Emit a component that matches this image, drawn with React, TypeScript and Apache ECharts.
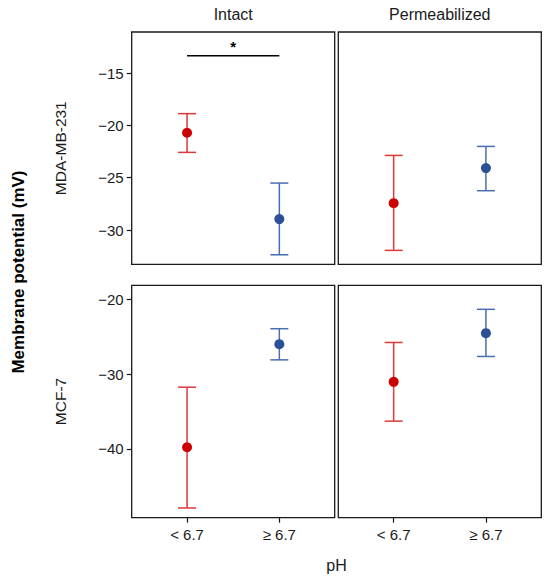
import React, { useEffect, useRef } from "react";
import * as echarts from "echarts";

// ---------- data ----------
const conditions = ["Intact", "Permeabilized"];
const cellLines = ["MDA-MB-231", "MCF-7"];
const phLabels = ["< 6.7", "≥ 6.7"];
const phPositions = [1, 2];

const meanMdaIntact = [-20.7, -28.95];
const lowMdaIntact = [-22.58, -32.36];
const highMdaIntact = [-18.88, -25.51];

const meanMdaPerm = [-27.43, -24.08];
const lowMdaPerm = [-31.94, -26.24];
const highMdaPerm = [-22.87, -22.01];

const meanMcfIntact = [-39.77, -25.99];
const lowMcfIntact = [-47.88, -28.09];
const highMcfIntact = [-31.74, -23.93];

const meanMcfPerm = [-31.03, -24.52];
const lowMcfPerm = [-36.28, -27.64];
const highMcfPerm = [-25.77, -21.34];

const topRowRange = [-33.28, -11.08];
const bottomRowRange = [-49.18, -18.13];
const topRowTicks = [-30, -25, -20, -15];
const bottomRowTicks = [-40, -30, -20];

const sigBracketX = [1, 2];
const sigBracketY = -13.35;
const sigLabel = "*";

// ---------- styles ----------
const pointColors = ["#cc0000", "#2b5096"];
const barColors = ["#dd3838", "#4a6eb2"];
const FONT = "Liberation Sans, Arial, Helvetica, sans-serif";

const panels = [
  { mean: meanMdaIntact, low: lowMdaIntact, high: highMdaIntact, row: 0, col: 0 },
  { mean: meanMdaPerm, low: lowMdaPerm, high: highMdaPerm, row: 0, col: 1 },
  { mean: meanMcfIntact, low: lowMcfIntact, high: highMcfIntact, row: 1, col: 0 },
  { mean: meanMcfPerm, low: lowMcfPerm, high: highMcfPerm, row: 1, col: 1 },
];

const gridLefts = [131.7, 338.3];
const gridTops = [32, 285.3];
const gridW = 203;
const gridH = 232.4;

const fmtNeg = (v: number) => (v < 0 ? "\u2212" + Math.abs(v) : String(v));

export default function App() {
  const ref = useRef<HTMLDivElement>(null);

  useEffect(() => {
    if (!ref.current) return;
    const chart = echarts.init(ref.current, null, { renderer: "svg" });

    const grids: any[] = [];
    const xAxes: any[] = [];
    const yAxes: any[] = [];
    const series: any[] = [];

    panels.forEach((p, i) => {
      grids.push({
        left: gridLefts[p.col],
        top: gridTops[p.row],
        width: gridW,
        height: gridH,
        show: true,
        borderColor: "#1a1a1a",
        borderWidth: 1.3,
        backgroundColor: "#ffffff",
        containLabel: false,
      });
      const isBottom = p.row === 1;
      const isLeft = p.col === 0;
      xAxes.push({
        type: "value",
        gridIndex: i,
        min: 0.4,
        max: 2.6,
        splitLine: { show: false },
        axisLine: { show: false },
        axisTick: {
          show: isBottom,
          customValues: phPositions,
          length: 5,
          inside: false,
          lineStyle: { color: "#1a1a1a", width: 1.2 },
        },
        axisLabel: {
          show: isBottom,
          customValues: phPositions,
          formatter: (v: number) => phLabels[phPositions.indexOf(v)] ?? "",
          fontSize: 15,
          color: "#1a1a1a",
          fontFamily: FONT,
          margin: 9,
        },
      });
      const range = p.row === 0 ? topRowRange : bottomRowRange;
      const ticks = p.row === 0 ? topRowTicks : bottomRowTicks;
      yAxes.push({
        type: "value",
        gridIndex: i,
        min: range[0],
        max: range[1],
        splitLine: { show: false },
        axisLine: { show: false },
        axisTick: {
          show: isLeft,
          customValues: ticks,
          length: 5,
          lineStyle: { color: "#1a1a1a", width: 1.2 },
        },
        axisLabel: {
          show: isLeft,
          customValues: ticks,
          formatter: (v: number) => fmtNeg(v),
          fontSize: 15,
          color: "#1a1a1a",
          fontFamily: FONT,
          margin: 8,
        },
      });

      const errData = phPositions.map((x, k) => [x, p.low[k], p.high[k]]);
      series.push({
        type: "custom",
        xAxisIndex: i,
        yAxisIndex: i,
        data: errData,
        encode: { x: 0, y: [1, 2] },
        renderItem: (params: any, api: any) => {
          const x = api.value(0);
          const lo = api.coord([x, api.value(1)]);
          const hi = api.coord([x, api.value(2)]);
          const hw = 9;
          const color = barColors[params.dataIndex];
          const st = { stroke: color, lineWidth: 1.5 };
          return {
            type: "group",
            children: [
              { type: "line", shape: { x1: lo[0], y1: lo[1], x2: hi[0], y2: hi[1] }, style: st },
              { type: "line", shape: { x1: lo[0] - hw, y1: lo[1], x2: lo[0] + hw, y2: lo[1] }, style: st },
              { type: "line", shape: { x1: hi[0] - hw, y1: hi[1], x2: hi[0] + hw, y2: hi[1] }, style: st },
            ],
          };
        },
        z: 2,
      });
      series.push({
        type: "scatter",
        xAxisIndex: i,
        yAxisIndex: i,
        symbol: "circle",
        symbolSize: 10,
        data: phPositions.map((x, k) => ({
          value: [x, p.mean[k]],
          itemStyle: { color: pointColors[k], opacity: 1 },
        })),
        z: 3,
      });
    });

    // significance bracket (Intact, MDA-MB-231)
    series.push({
      type: "line",
      xAxisIndex: 0,
      yAxisIndex: 0,
      symbol: "none",
      data: sigBracketX.map((x) => [x, sigBracketY]),
      lineStyle: { color: "#000000", width: 1.6 },
      z: 4,
    });
    series.push({
      type: "scatter",
      xAxisIndex: 0,
      yAxisIndex: 0,
      symbolSize: 1,
      itemStyle: { color: "rgba(0,0,0,0)", opacity: 1 },
      data: [[(sigBracketX[0] + sigBracketX[1]) / 2, sigBracketY]],
      label: {
        show: true,
        position: "top",
        distance: 1,
        formatter: sigLabel,
        fontSize: 15,
        fontWeight: "bold",
        color: "#000000",
        fontFamily: FONT,
      },
      z: 4,
    });

    const textStyle = (extra: any) => ({
      fontFamily: FONT,
      fill: "#1a1a1a",
      align: "center",
      verticalAlign: "middle",
      ...extra,
    });

    const graphic: any[] = [
      ...conditions.map((c, ci) => ({
        type: "text",
        x: gridLefts[ci] + gridW / 2,
        y: 14,
        style: textStyle({ text: c, fontSize: 16 }),
      })),
      ...cellLines.map((c, ri) => ({
        type: "text",
        x: 60,
        y: gridTops[ri] + gridH / 2,
        rotation: Math.PI / 2,
        style: textStyle({ text: c, fontSize: 15.5 }),
      })),
      {
        type: "text",
        x: 18,
        y: 272,
        rotation: Math.PI / 2,
        style: textStyle({ text: "Membrane potential (mV)", fontSize: 17, fontWeight: "bold", fill: "#000" }),
      },
      {
        type: "text",
        x: 336.5,
        y: 565,
        style: textStyle({ text: "pH", fontSize: 16 }),
      },
    ];

    chart.setOption({
      animation: false,
      backgroundColor: "#ffffff",
      grid: grids,
      xAxis: xAxes,
      yAxis: yAxes,
      series,
      graphic,
    });

    return () => chart.dispose();
  }, []);

  return (
    <div
      ref={ref}
      style={{ position: "fixed", left: 0, top: 0, width: 550, height: 579, background: "#fff" }}
    />
  );
}
